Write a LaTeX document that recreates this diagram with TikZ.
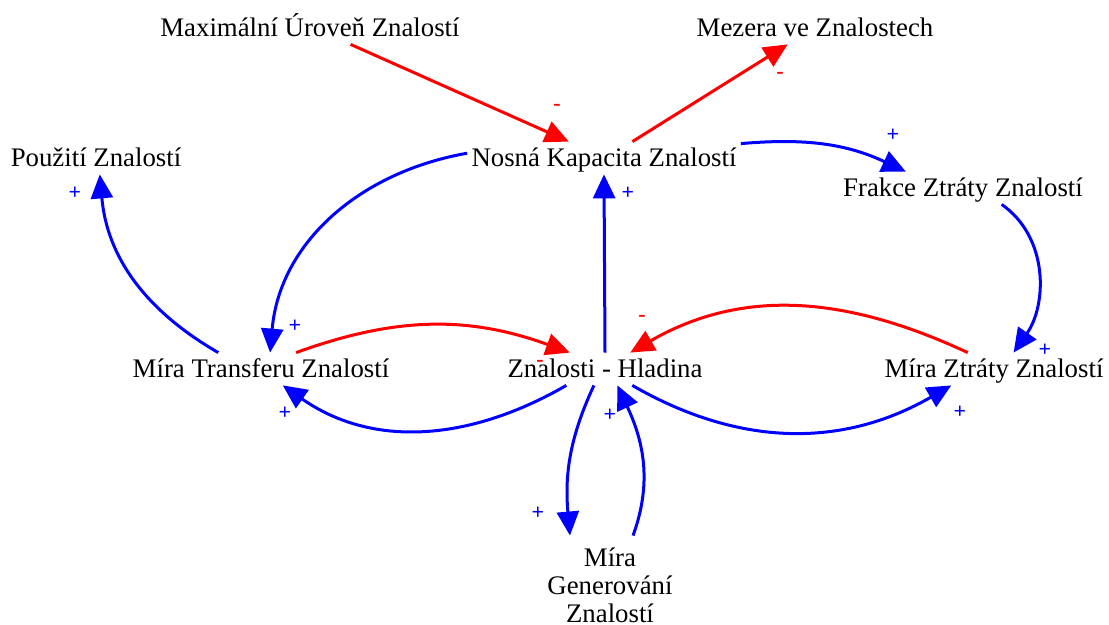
\documentclass[tikz,border=0pt]{standalone}
\usepackage{fontspec}
\setmainfont{Liberation Serif}
\usetikzlibrary{arrows.meta}

\begin{document}
\begin{tikzpicture}[x=0.5pt,y=-0.5pt,
  var/.style={inner sep=2pt,text height=10.5pt,text depth=1.5pt,font=\fontsize{13.4}{14}\selectfont},
  poslink/.style={draw=blue,line width=1.5pt,-{Triangle[length=12pt,width=11pt]}},
  neglink/.style={draw=red,line width=1.5pt,-{Triangle[length=12pt,width=11pt]}},
  sgnplus/.style={text=blue,inner sep=0pt,font=\fontsize{11}{11}\selectfont\bfseries},
  sgnminus/.style={text=red,inner sep=0pt,font=\fontsize{11}{11}\selectfont\bfseries}]
\useasboundingbox (0,0) rectangle (1109,625);
% variables
\node [var] (mu) at (310,28) {Maximální Úroveň Znalostí};
\node [var] (mz) at (815,28) {Mezera ve Znalostech};
\node [var] (pz) at (96,158) {Použití Znalostí};
\node [var] (nk) at (604,158) {Nosná Kapacita Znalostí};
\node [var] (fz) at (963,188) {Frakce Ztráty Znalostí};
\node [var] (mt) at (261,369) {Míra Transferu Znalostí};
\node [var] (zh) at (605,369) {Znalosti - Hladina};
\node [var] (mzz) at (994,369) {Míra Ztráty Znalostí};
\node [inner sep=2pt,outer sep=4pt,align=center,font=\fontsize{13.4}{14}\selectfont] (mg) at (610,585) {Míra\\Generování\\Znalostí};
% links
\draw [neglink] (mu.338) -- (nk.155);
\draw [neglink] (nk.30) -- (mz.211);
\draw [poslink] (nk.6) to[out=5,in=155] (fz.164);
\draw [poslink] (fz.337) to[out=-35,in=55] (mzz.40);
\draw [poslink] (nk.178) to[out=190,in=85] (mt.61);
\draw [poslink] (mt.159) to[out=150,in=275] (pz.283);
\draw [neglink] (mt.25) to[out=20,in=160] (zh.155);
\draw [neglink] (mzz.148) to[out=155,in=30] (zh.33);
\draw [poslink] (zh.north) -- (nk.south);
\draw [poslink] (zh.203) to[out=210,in=325] (mt.323);
\draw [poslink] (zh.329) to[out=-30,in=210] (mzz.201);
\draw [poslink] (zh.236) to[out=245,in=95] (mg.129);
\draw [poslink] (mg.65) to[out=70,in=295] (zh.307);
% polarities
\node [sgnminus] (s1) at (557,107) {-};
\node [sgnminus] (s2) at (780,75) {-};
\node [sgnplus] (s3) at (893,135) {+};
\node [sgnplus] (s4) at (1045,350) {+};
\node [sgnplus] (s5) at (295,326) {+};
\node [sgnplus] (s6) at (75,193) {+};
\node [sgnminus] (s7) at (540,363) {-};
\node [sgnminus] (s8) at (642,318) {-};
\node [sgnplus] (s9) at (628,193) {+};
\node [sgnplus] (s10) at (285,413) {+};
\node [sgnplus] (s11) at (960,412) {+};
\node [sgnplus] (s12) at (538,513) {+};
\node [sgnplus] (s13) at (610,415) {+};
\end{tikzpicture}
\end{document}
